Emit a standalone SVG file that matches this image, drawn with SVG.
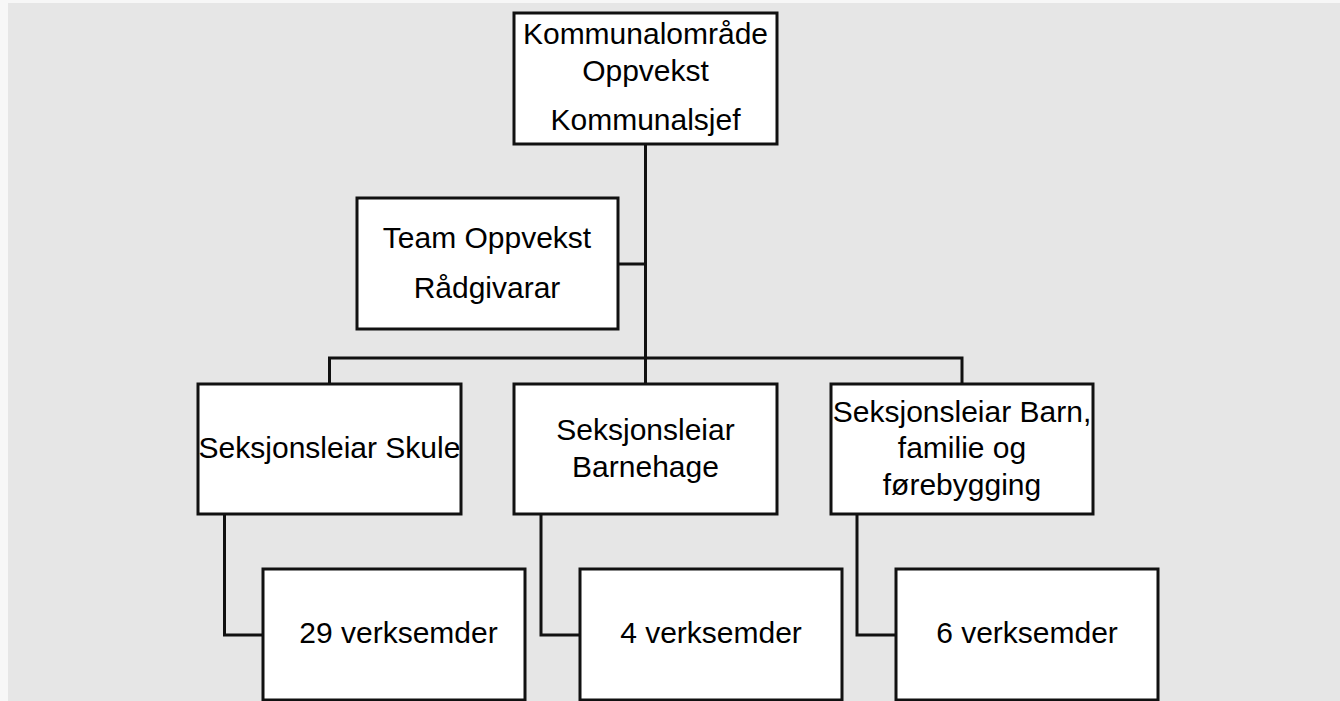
<svg xmlns="http://www.w3.org/2000/svg" width="1340" height="701" viewBox="0 0 1340 701">
<style>
.box{fill:#ffffff;stroke:#111111;stroke-width:3}
.con{fill:none;stroke:#111111;stroke-width:3}
.t{font-family:"Liberation Sans",Arial,sans-serif;font-size:30px;fill:#000000;text-anchor:middle}
</style>
<rect x="0" y="0" width="1340" height="701" fill="#f7f7f7"/>
<rect x="8" y="3" width="1332" height="698" fill="#e6e6e6"/>
<g id="connectors">
<path class="con" d="M645.5 144 V384"/>
<path class="con" d="M618 264 H645.5"/>
<path class="con" d="M329.5 384 V358 H962 V384"/>
<path class="con" d="M224.5 514 V635 H263"/>
<path class="con" d="M541 514 V635 H580"/>
<path class="con" d="M857 514 V635 H896"/>
</g>
<g id="n-top">
<rect class="box" x="514" y="13" width="263" height="131"/>
<text class="t" x="645.5" y="44">Kommunalområde</text>
<text class="t" x="645.5" y="81">Oppvekst</text>
<text class="t" x="645.5" y="130">Kommunalsjef</text>
</g>
<g id="n-team">
<rect class="box" x="357" y="198" width="261" height="131"/>
<text class="t" x="487" y="248">Team Oppvekst</text>
<text class="t" x="487" y="298">Rådgivarar</text>
</g>
<g id="n-skule">
<rect class="box" x="198" y="384" width="263" height="130"/>
<text class="t" x="329.5" y="458">Seksjonsleiar Skule</text>
</g>
<g id="n-barnehage">
<rect class="box" x="514" y="384" width="263" height="130"/>
<text class="t" x="645.5" y="440">Seksjonsleiar</text>
<text class="t" x="645.5" y="477">Barnehage</text>
</g>
<g id="n-barn">
<rect class="box" x="831" y="384" width="262" height="130"/>
<text class="t" x="962" y="422">Seksjonsleiar Barn,</text>
<text class="t" x="962" y="458">familie og</text>
<text class="t" x="962" y="495">førebygging</text>
</g>
<g id="n-v29">
<rect class="box" x="263" y="569" width="262" height="131"/>
<text class="t" x="398.5" y="643">29 verksemder</text>
</g>
<g id="n-v4">
<rect class="box" x="580" y="569" width="262" height="131"/>
<text class="t" x="711" y="643">4 verksemder</text>
</g>
<g id="n-v6">
<rect class="box" x="896" y="569" width="262" height="131"/>
<text class="t" x="1027" y="643">6 verksemder</text>
</g>
</svg>
